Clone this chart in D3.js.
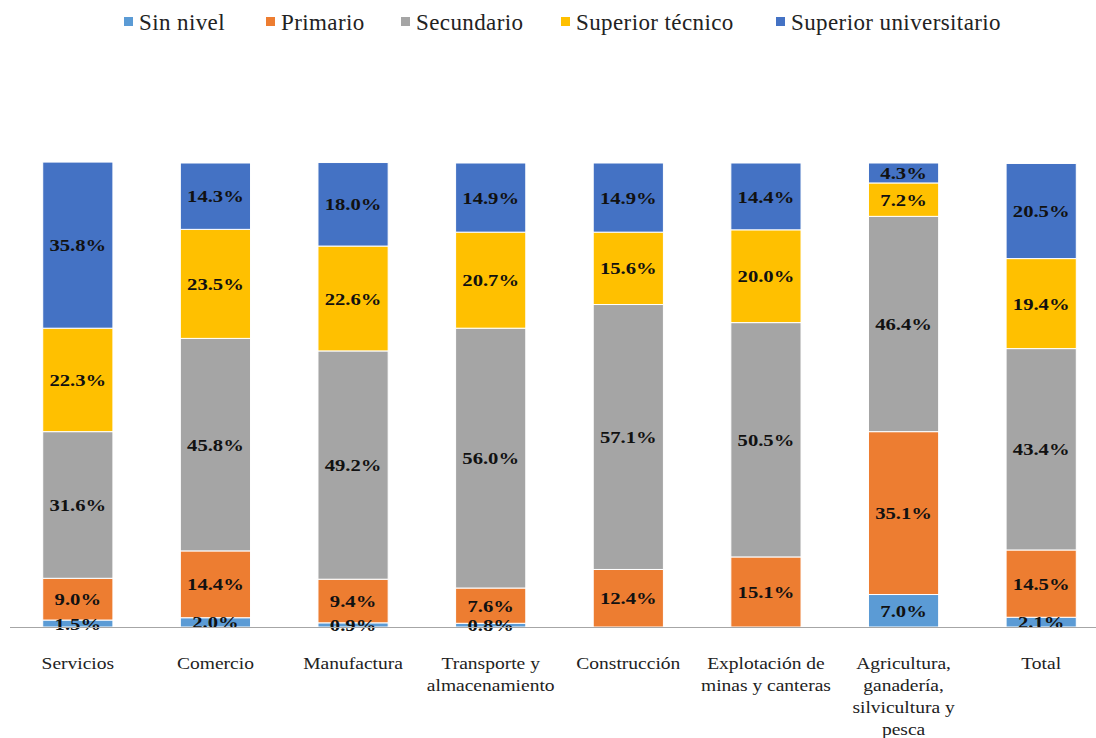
<!DOCTYPE html>
<html><head><meta charset="utf-8">
<script src="https://cdn.jsdelivr.net/npm/d3@7"></script>
<style>body{margin:0;background:#fff}svg{display:block}</style>
</head><body>
<svg id="c" width="1096" height="738"></svg>
<script>
const categories = [["Servicios"],["Comercio"],["Manufactura"],["Transporte y","almacenamiento"],["Construcción"],["Explotación de","minas y canteras"],["Agricultura,","ganadería,","silvicultura y","pesca"],["Total"]];
const seriesNames = ["Sin nivel","Primario","Secundario","Superior técnico","Superior universitario"];
const colors = ["#5B9BD5","#ED7D31","#A5A5A5","#FFC000","#4472C4"];
const sinNivel = [1.5,2.0,0.9,0.8,0,0,7.0,2.1];
const primario = [9.0,14.4,9.4,7.6,12.4,15.1,35.1,14.5];
const secundario = [31.6,45.8,49.2,56.0,57.1,50.5,46.4,43.4];
const supTecnico = [22.3,23.5,22.6,20.7,15.6,20.0,7.2,19.4];
const supUniv = [35.8,14.3,18.0,14.9,14.9,14.4,4.3,20.5];
const seriesValues = [sinNivel,primario,secundario,supTecnico,supUniv];

const FONT = '"Liberation Serif","Times New Roman",serif';
const svg = d3.select("#c");
const keys = categories.map((c,i)=>i);
const x = d3.scaleBand().domain(keys).range([9,1110]).paddingInner(0.49).paddingOuter(0.245);
const y = d3.scaleLinear().domain([0,100]).range([627,163]);

const rows = keys.map(i=>{const r={i}; seriesNames.forEach((s,j)=>r[s]=seriesValues[j][i]); return r;});
const stack = d3.stack().keys(seriesNames)(rows);

const g = svg.append("g");
stack.forEach((layer,j)=>{
  g.selectAll(null).data(layer).enter().append("rect")
   .attr("x",d=>x(d.data.i)).attr("width",x.bandwidth())
   .attr("y",d=>y(d[1])).attr("height",d=>Math.max(0,y(d[0])-y(d[1])))
   .attr("fill",colors[j]).attr("stroke","#fff").attr("stroke-width",1);
});
svg.append("line").attr("x1",10).attr("x2",1096).attr("y1",y(0)+0.5).attr("y2",y(0)+0.5).attr("stroke","#a6a6a6").attr("stroke-width",1.2);

stack.forEach((layer,j)=>{
  g.selectAll(null).data(layer.filter(d=>d[1]-d[0]>0)).enter().append("text")
   .attr("transform",d=>`translate(${x(d.data.i)+x.bandwidth()/2},${(y(d[0])+y(d[1]))/2}) scale(1.18,1)`)
   .attr("dy","0.35em").attr("text-anchor","middle")
   .style("font-family",FONT).style("font-size","17.5px").style("font-weight","bold").attr("fill","#111")
   .text(d=>(d[1]-d[0]).toFixed(1)+"%");
});

categories.forEach((lines,i)=>{
  const t = svg.append("text").attr("text-anchor","middle")
    .attr("transform",`translate(${x(i)+x.bandwidth()/2},0) scale(1.22,1)`)
    .style("font-family",FONT).style("font-size","16px").attr("fill","#222");
  lines.forEach((l,k)=>t.append("tspan").attr("x",0).attr("y",669+k*22).text(l));
});

const legX = [124,266,401,561,776];
seriesNames.forEach((s,j)=>{
  svg.append("rect").attr("x",legX[j]).attr("y",17).attr("width",9).attr("height",9).attr("fill",colors[j]);
  svg.append("text").attr("x",legX[j]+15).attr("y",30)
    .style("font-family",FONT).style("font-size","23px").style("letter-spacing","0.4px").attr("fill","#222").text(s);
});
</script>
</body></html>
